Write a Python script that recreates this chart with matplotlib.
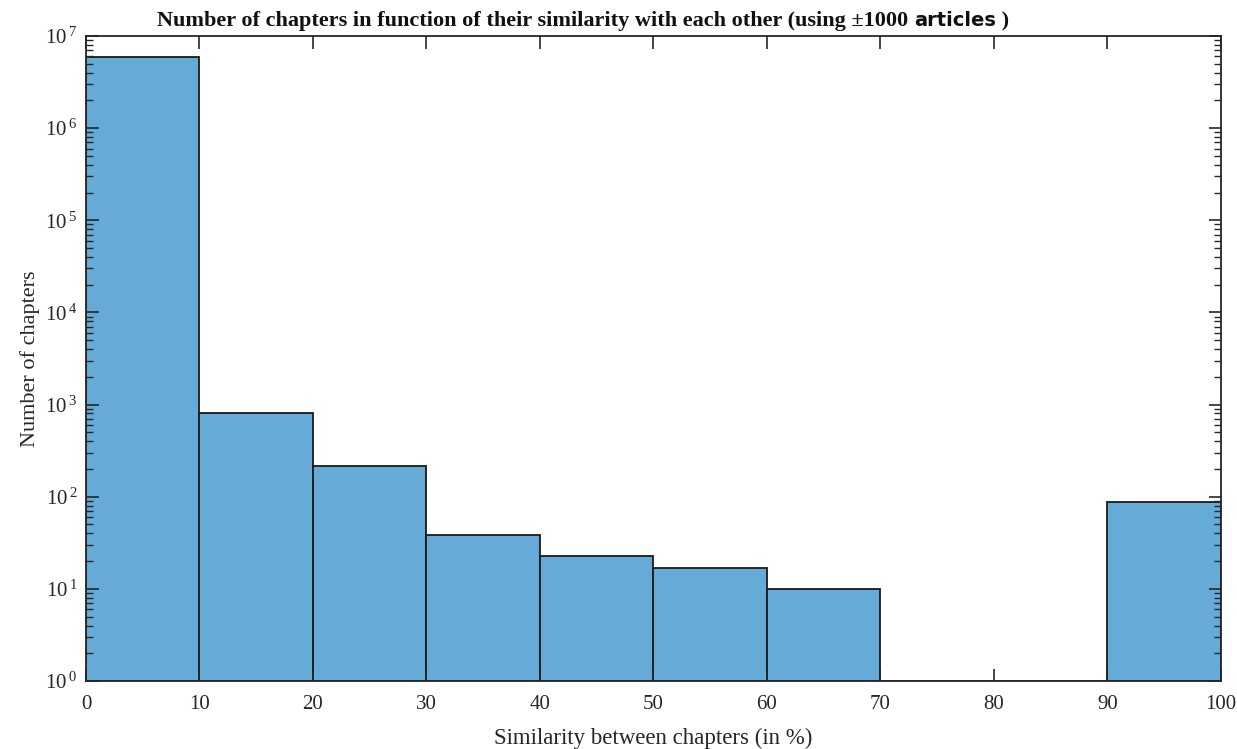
import math
import matplotlib
matplotlib.use('Agg')
import matplotlib.pyplot as plt
from matplotlib.ticker import LogLocator, NullFormatter, FuncFormatter, FixedLocator

# histogram bins (similarity in %) and counts
bin_edges = [0, 10, 20, 30, 40, 50, 60, 70, 80, 90, 100]
counts = [5.9e6, 810, 215, 37, 22, 16, 9, 0, 0, 86]
y_decades = [1e0, 1e1, 1e2, 1e3, 1e4, 1e5, 1e6, 1e7]

plt.rcParams['font.family'] = ['Liberation Serif', 'DejaVu Serif']
plt.rcParams['mathtext.fontset'] = 'custom'
plt.rcParams['mathtext.rm'] = 'Liberation Serif'
plt.rcParams['mathtext.it'] = 'Liberation Serif:italic'
plt.rcParams['mathtext.default'] = 'regular'

fig = plt.figure(figsize=(12.37, 7.49), dpi=100)
ax = fig.add_axes([0.0695, 0.0908, 0.9175, 0.8612])

lefts = bin_edges[:-1]
widths = [b - a for a, b in zip(bin_edges[:-1], bin_edges[1:])]
ax.bar(lefts, counts, width=widths, align='edge', color='#66AAD7',
       edgecolor='#1a1a1a', linewidth=1.3, bottom=1)

ax.set_yscale('log')
ax.set_xlim(0, 100)
ax.set_ylim(1, 1e7)
ax.set_xticks(range(0, 101, 10))
ax.yaxis.set_major_locator(FixedLocator(y_decades))
ax.yaxis.set_major_formatter(FuncFormatter(lambda v, p: r'10$\,^{%d}$' % round(math.log10(v))))
ax.yaxis.set_minor_locator(LogLocator(base=10, subs=range(2, 10), numticks=100))
ax.yaxis.set_minor_formatter(NullFormatter())

ax.tick_params(which='both', direction='in', top=True, right=True,
               colors='#262626', labelcolor='#262626')
ax.tick_params(which='major', length=9, width=1.2, labelsize=15)
ax.tick_params(which='minor', length=5, width=1.0)
ax.tick_params(axis='x', pad=10)
ax.tick_params(axis='y', pad=6)
for s in ax.spines.values():
    s.set_color('#262626')
    s.set_linewidth(1.3)

ax.set_xlabel('Similarity between chapters (in %)', fontsize=16.5, color='#262626', labelpad=10)
ax.set_ylabel('Number of chapters', fontsize=16, color='#262626', labelpad=4)

# title in three pieces: serif bold, sans bold "articles", serif bold ")"
parts = [('Number of chapters in function of their similarity with each other (using \u00b11000 ', 'Liberation Serif'),
         ('articles', 'DejaVu Sans'),
         (' )', 'Liberation Serif')]
sizes = [16, 14, 16]
fig.canvas.draw()
r = fig.canvas.get_renderer()
texts = []
for (s, fam), fs in zip(parts, sizes):
    t = fig.text(0.5, 0.965, s, fontsize=fs, fontweight='bold', family=fam,
                 color='#111111', va='baseline', ha='left')
    texts.append(t)
widths_px = [t.get_window_extent(r).width for t in texts]
total = sum(widths_px)
x = (583 - total / 2) / fig.bbox.width
for t, w in zip(texts, widths_px):
    t.set_x(x)
    x += w / fig.bbox.width

plt.savefig('out.png', dpi=100)
